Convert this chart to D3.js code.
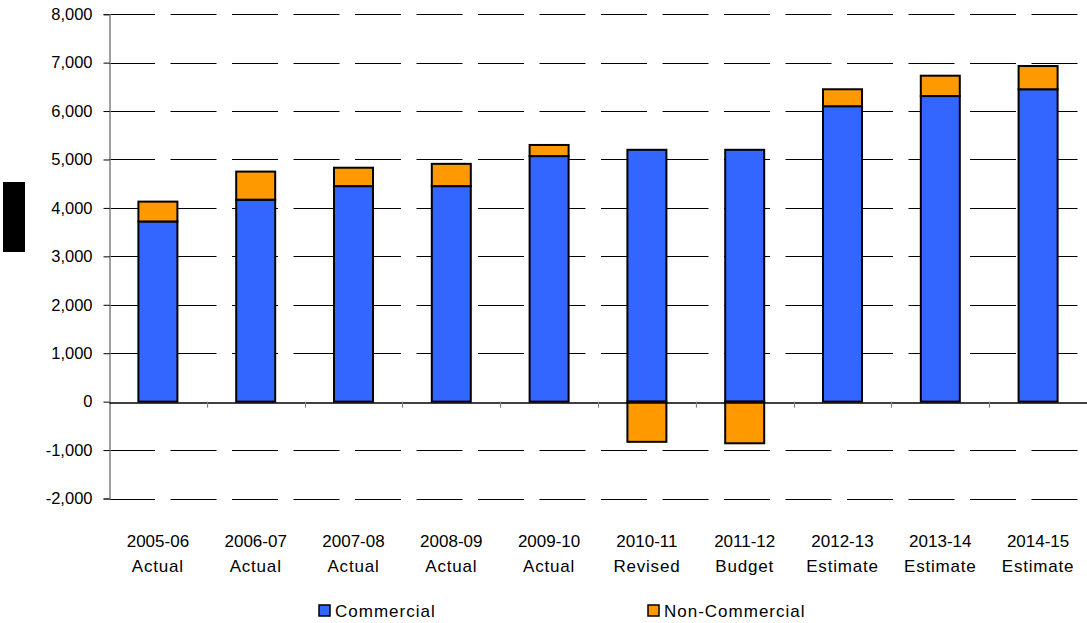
<!DOCTYPE html>
<html>
<head>
<meta charset="utf-8">
<script src="https://cdn.jsdelivr.net/npm/d3@7/dist/d3.min.js"></script>
<style>
  html, body { margin: 0; padding: 0; background: #fff; }
  svg { display: block; font-family: "Liberation Sans", Arial, sans-serif; }
</style>
</head>
<body>
<svg id="chart" width="1087" height="623"></svg>
<script>
const categories = ["2005-06", "2006-07", "2007-08", "2008-09", "2009-10", "2010-11", "2011-12", "2012-13", "2013-14", "2014-15"];
const subLabels = ["Actual", "Actual", "Actual", "Actual", "Actual", "Revised", "Budget", "Estimate", "Estimate", "Estimate"];
const commercial = [3720, 4170, 4450, 4450, 5070, 5200, 5200, 6100, 6310, 6450];
const nonCommercial = [410, 580, 380, 460, 230, -830, -860, 350, 420, 480];
const seriesNames = ["Commercial", "Non-Commercial"];
const seriesColors = ["#3366FF", "#FF9900"];
const yTicks = [-2000, -1000, 0, 1000, 2000, 3000, 4000, 5000, 6000, 7000, 8000];

const svg = d3.select("#chart");
const x = d3.scaleBand().domain(categories).range([109, 1087]).paddingInner(0).paddingOuter(0);
const y = d3.scaleLinear().domain([-2000, 8000]).range([498.5, 14.2]);

// redacted axis title block
svg.append("rect").attr("x", 3).attr("y", 182).attr("width", 22).attr("height", 70).attr("fill", "#000");

// gridlines (dashed), except zero
svg.append("g").selectAll("line").data(yTicks.filter(d => d !== 0)).join("line")
  .attr("x1", 109).attr("x2", 1087)
  .attr("y1", d => Math.round(y(d)) + 0.5).attr("y2", d => Math.round(y(d)) + 0.5)
  .attr("stroke", "#000").attr("stroke-width", 1.2)
  .attr("stroke-dasharray", "46,15.5");

// y axis
const fmt = d3.format(",");
const yAxis = d3.axisLeft(y).tickValues(yTicks).tickFormat(d => fmt(d).replace("\u2212", "-")).tickSize(6).tickPadding(11);
const gy = svg.append("g").attr("transform", "translate(109.5,0)").call(yAxis);
gy.select(".domain").attr("stroke", "#808080").attr("stroke-width", 1.5);
gy.selectAll(".tick line").attr("stroke", "#000");
gy.selectAll(".tick text").attr("font-size", 16.5).attr("fill", "#000")
  .attr("font-family", "'Liberation Sans', Arial, sans-serif");

// stacked bars
const rows = categories.map((c, i) => ({ cat: c, Commercial: commercial[i], "Non-Commercial": nonCommercial[i] }));
const stack = d3.stack().keys(seriesNames).offset(d3.stackOffsetDiverging);
const layers = stack(rows);
const barW = 39;
svg.append("g").selectAll("g").data(layers).join("g")
  .attr("fill", (d, i) => seriesColors[i])
  .selectAll("rect").data(d => d).join("rect")
  .attr("x", d => x(d.data.cat) + x.bandwidth() / 2 - barW / 2)
  .attr("y", d => y(Math.max(d[0], d[1])))
  .attr("width", barW)
  .attr("height", d => Math.abs(y(d[0]) - y(d[1])))
  .attr("stroke", "#000").attr("stroke-width", 2);

// x axis at zero
const xAxis = d3.axisBottom(x).tickSize(0).tickFormat("");
const gx = svg.append("g").attr("transform", `translate(0,${Math.round(y(0)) + 0.5})`).call(xAxis);
gx.select(".domain").attr("stroke", "#000").attr("stroke-width", 1.3);
gx.selectAll(".tick").remove();
// category separator ticks
const boundaries = categories.slice(1).map(c => x(c));
svg.append("g").selectAll("line").data(boundaries).join("line")
  .attr("x1", d => Math.round(d) + 0.5).attr("x2", d => Math.round(d) + 0.5)
  .attr("y1", y(0)).attr("y2", y(0) + 6)
  .attr("stroke", "#808080").attr("stroke-width", 1.2);

// category labels
const lab = svg.append("g").selectAll("text").data(categories).join("text")
  .attr("text-anchor", "middle")
  .attr("font-size", 17).attr("fill", "#000")
  .attr("x", d => x(d) + x.bandwidth() / 2);
lab.append("tspan").attr("x", d => x(d) + x.bandwidth() / 2).attr("y", 547).text(d => d);
lab.append("tspan").attr("x", d => x(d) + x.bandwidth() / 2).attr("y", 572)
  .attr("letter-spacing", 0.8).text((d, i) => subLabels[i]);

// legend
const legendX = [319, 648];
const leg = svg.append("g").selectAll("g").data(seriesNames).join("g")
  .attr("transform", (d, i) => `translate(${legendX[i]},605)`);
leg.append("rect").attr("width", 11).attr("height", 11)
  .attr("fill", (d, i) => seriesColors[i]).attr("stroke", "#000").attr("stroke-width", 1.5);
leg.append("text").attr("x", 16).attr("y", 12).attr("font-size", 17).attr("letter-spacing", 1)
  .attr("fill", "#000").text(d => d);
</script>
</body>
</html>
